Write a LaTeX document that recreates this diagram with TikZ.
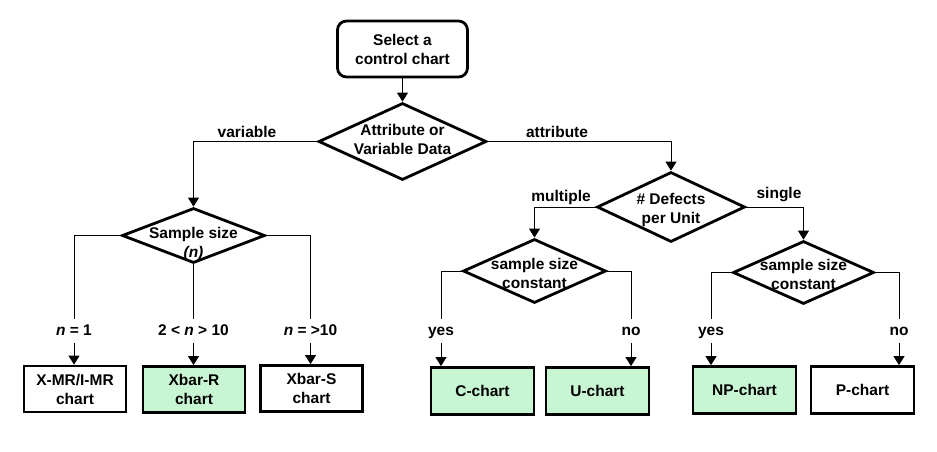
\documentclass[tikz,border=0pt]{standalone}
\usepackage{fontspec}
\setmainfont{Liberation Sans}
\usetikzlibrary{shapes.geometric,arrows.meta}
\definecolor{boxgreen}{RGB}{200,245,210}
\newcommand\dtext[2][0pt]{\makebox[0pt]{\raisebox{#1}[0pt][0pt]{\begin{tabular}[c]{@{}c@{}}#2\end{tabular}}}}
\begin{document}
\begin{tikzpicture}[x=1pt,y=-1pt,
  every node/.style={font=\fontsize{15.5}{19}\selectfont\bfseries},
  dec/.style={draw, line width=2.8pt, shape=diamond, inner sep=0pt, fill=white},
  chart/.style={draw, line width=2.8pt, minimum width=102pt, minimum height=46pt, inner sep=0pt, align=center},
  lbl/.style={inner sep=0pt, text height=11pt, text depth=3pt, minimum height=24pt},
  elbl/.style={inner sep=0pt, anchor=base},
  conn/.style={line width=1pt},
  arr/.style={conn, -{Triangle[length=9pt,width=11pt]}}
]
\useasboundingbox[fill=white] (0,0) rectangle (937,451);

% start
\node[draw, line width=2.8pt, rounded corners=9pt, minimum width=130pt, minimum height=56pt, align=center, inner sep=0pt] (start) at (402.5,49) {Select a\\control chart};

% decisions
\node[dec, minimum width=168pt, minimum height=77pt] (d1) at (402.5,141.5) {\dtext[-3pt]{Attribute or\\Variable Data}};
\node[dec, minimum width=143pt, minimum height=55pt] (d2) at (193.5,235.5) {\dtext[-12pt]{Sample size\\\textit{(n)}}};
\node[dec, minimum width=148pt, minimum height=70pt] (d3) at (671,207) {\dtext[-7pt]{\# Defects\\per Unit}};
\node[dec, minimum width=143pt, minimum height=64pt] (d4) at (534.5,271) {\dtext[-7.5pt]{sample size\\constant}};
\node[dec, minimum width=141pt, minimum height=63pt] (d5) at (803.5,272.5) {\dtext[-7pt]{sample size\\constant}};

% charts
\node[chart] (b1) at (75,389) {X-MR/I-MR\\chart};
\node[chart, fill=boxgreen] (b2) at (194,389.5) {Xbar-R\\chart};
\node[chart] (b3) at (311.5,388.5) {Xbar-S\\chart};
\node[chart, fill=boxgreen, minimum width=103pt, minimum height=47pt] (b4) at (482.5,391) {C-chart};
\node[chart, fill=boxgreen, minimum width=103pt, minimum height=47pt] (b5) at (597.5,391) {U-chart};
\node[chart, fill=boxgreen, minimum width=103pt, minimum height=47pt] (b6) at (744.5,390) {NP-chart};
\node[chart, minimum width=103pt, minimum height=47pt] (b7) at (862.5,390) {P-chart};

% branch labels
\node[lbl] (l1) at (74,331) {\textit{n} = 1};
\node[lbl] (l2) at (193.5,331) {2 < \textit{n} > 10};
\node[lbl] (l3) at (310.5,331) {\textit{n} = >10};
\node[lbl] (l4) at (441,331) {yes};
\node[lbl] (l5) at (631,331) {no};
\node[lbl] (l6) at (711,331) {yes};
\node[lbl] (l7) at (899,331) {no};

% edge labels
\node[elbl] (tvar) at (247,137) {variable};
\node[elbl] (tatt) at (557,137) {attribute};
\node[elbl] (tmul) at (561,201) {multiple};
\node[elbl] (tsin) at (779,198) {single};

% connectors
\draw[arr] (start.south) -- (d1.north);
\draw[arr] (d1.west) -| (d2.north);
\draw[arr] (d1.east) -| (d3.north);
\draw[arr] (d3.west) -| (d4.north);
\draw[arr] (d3.east) -| (d5.north);

\draw[conn] (d2.west) -| (l1.north);
\draw[conn] (d2.south) -- (l2.north);
\draw[conn] (d2.east) -| (l3.north);
\draw[conn] (d4.west) -| (l4.north);
\draw[conn] (d4.east) -| (l5.north);
\draw[conn] (d5.west) -| (l6.north);
\draw[conn] (d5.east) -| (l7.north);

\draw[arr] (l1.south) -- (l1.south |- b1.north);
\draw[arr] (l2.south) -- (l2.south |- b2.north);
\draw[arr] (l3.south) -- (l3.south |- b3.north);
\draw[arr] (l4.south) -- (l4.south |- b4.north);
\draw[arr] (l5.south) -- (l5.south |- b5.north);
\draw[arr] (l6.south) -- (l6.south |- b6.north);
\draw[arr] (l7.south) -- (l7.south |- b7.north);
\end{tikzpicture}
\end{document}
